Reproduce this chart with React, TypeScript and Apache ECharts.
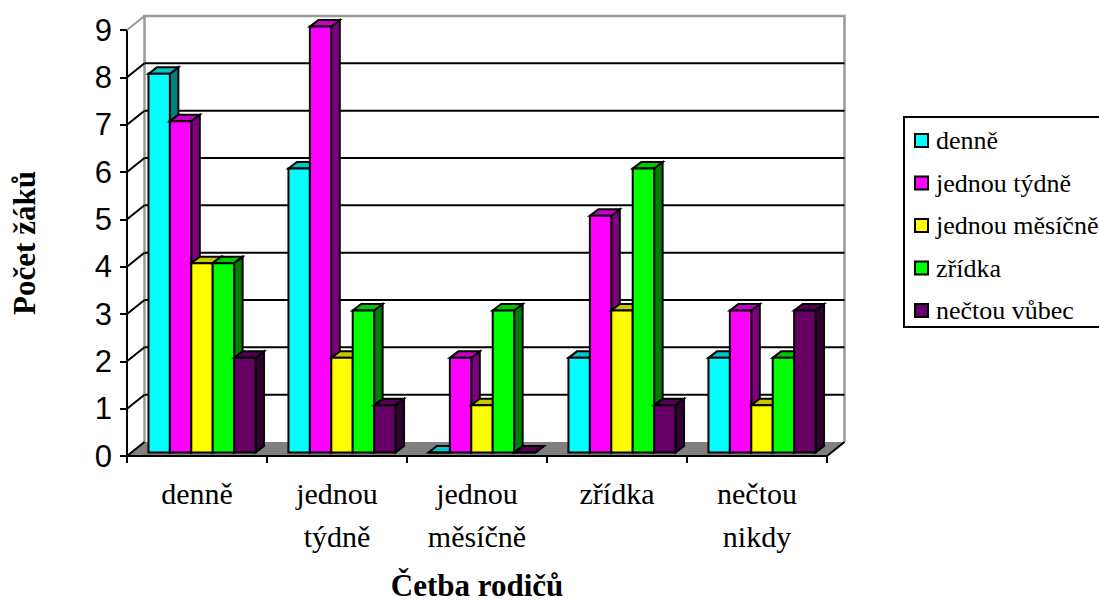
import React, { useEffect, useRef } from "react";
import * as echarts from "echarts";

const categories = ["denně", "jednou\ntýdně", "jednou\nměsíčně", "zřídka", "nečtou\nnikdy"];
const yTicks = [0, 1, 2, 3, 4, 5, 6, 7, 8, 9];
const denne = [8, 6, 0, 2, 2];
const jednouTydne = [7, 9, 2, 5, 3];
const jednouMesicne = [4, 2, 1, 3, 1];
const zridka = [4, 3, 3, 6, 2];
const nectouVubec = [2, 1, 0, 1, 3];

const seriesDefs = [
  { name: "denně", values: denne, front: "#00FFFF", top: "#00C8C8", side: "#008080" },
  { name: "jednou týdně", values: jednouTydne, front: "#FF00FF", top: "#C800C8", side: "#800080" },
  { name: "jednou měsíčně", values: jednouMesicne, front: "#FFFF00", top: "#C8C800", side: "#808000" },
  { name: "zřídka", values: zridka, front: "#00FF00", top: "#00C800", side: "#008000" },
  { name: "nečtou vůbec", values: nectouVubec, front: "#660066", top: "#520052", side: "#330033" },
];

const WALL_DX = 17.5;
const WALL_DY = -14;
const BAR_DX = 5;
const BAR_DY = -3.5;
const DEPTH_X = 8.5;
const DEPTH_Y = -6.5;
const GROUP_RATIO = 0.765;

const wallRender = (params: any, api: any) => {
  const v = api.value(0);
  const band = api.size([1, 0])[0];
  const left = api.coord([0, v]);
  const right = api.coord([categories.length - 1, v]);
  const x0 = left[0] - band / 2;
  const x1 = right[0] + band / 2;
  const y = left[1];
  const children: any[] = [];
  const bx0 = x0 + WALL_DX;
  const bx1 = x1 + WALL_DX;
  const by = y + WALL_DY;
  if (v === 0) {
    const topY = api.coord([0, 9])[1] + WALL_DY;
    children.push({
      type: "polygon",
      shape: { points: [[x0, y], [bx0, by], [bx1, by], [x1, y]] },
      style: { fill: "#808080", stroke: null },
    });
    children.push({
      type: "polyline",
      shape: { points: [[bx0, by], [bx0, topY], [bx1, topY], [bx1, by]] },
      style: { fill: null, stroke: "#999999", lineWidth: 2.5 },
    });
    children.push({
      type: "line",
      shape: { x1: x1, y1: y, x2: bx1, y2: by },
      style: { stroke: "#000", lineWidth: 2 },
    });
  }
  const grey = v === 9;
  if (v !== 0 && !grey) {
    children.push({
      type: "line",
      shape: { x1: bx0, y1: by, x2: bx1, y2: by },
      style: { stroke: "#000", lineWidth: 2 },
    });
  }
  children.push({
    type: "line",
    shape: { x1: x0, y1: y, x2: bx0, y2: by },
    style: { stroke: grey ? "#999999" : "#000", lineWidth: 2 },
  });
  return { type: "group", children };
};

const barRender = (seriesPos: number, def: any) => (params: any, api: any) => {
  const cat = api.value(0);
  const val = api.value(1);
  const band = api.size([1, 0])[0];
  const groupW = band * GROUP_RATIO;
  const barW = groupW / seriesDefs.length;
  const center = api.coord([cat, 0]);
  const topPt = api.coord([cat, val]);
  const x0 = center[0] - groupW / 2 + seriesPos * barW + BAR_DX;
  const x1 = x0 + barW;
  const yBase = center[1] + BAR_DY;
  const yTop = topPt[1] + BAR_DY;
  const edge = { stroke: "#000", lineWidth: 2, lineJoin: "miter" };
  return {
    type: "group",
    children: [
      {
        type: "polygon",
        shape: { points: [[x1, yTop], [x1 + DEPTH_X, yTop + DEPTH_Y], [x1 + DEPTH_X, yBase + DEPTH_Y], [x1, yBase]] },
        style: { fill: def.side, ...edge },
      },
      {
        type: "polygon",
        shape: { points: [[x0, yTop], [x0 + DEPTH_X, yTop + DEPTH_Y], [x1 + DEPTH_X, yTop + DEPTH_Y], [x1, yTop]] },
        style: { fill: def.top, ...edge },
      },
      {
        type: "polygon",
        shape: { points: [[x0, yTop], [x1, yTop], [x1, yBase], [x0, yBase]] },
        style: { fill: def.front, ...edge },
      },
    ],
  };
};

export default function App() {
  const ref = useRef<HTMLDivElement>(null);
  useEffect(() => {
    const chart = echarts.init(ref.current!, null, { renderer: "svg" });
    chart.setOption({
      animation: false,
      backgroundColor: "#fff",
      grid: { left: 127, top: 30, width: 700, height: 426, outerBoundsMode: "none", containLabel: false },
      xAxis: {
        type: "category",
        data: categories,
        z: 20,
        axisLine: { show: true, onZero: false, lineStyle: { color: "#000", width: 2 } },
        axisTick: { show: true, length: 7, lineStyle: { color: "#000", width: 2 } },
        axisLabel: {
          interval: 0,
          margin: 16,
          fontFamily: "Liberation Serif",
          fontSize: 30,
          lineHeight: 43,
          color: "#000",
        },
        name: "Četba rodičů",
        nameLocation: "middle",
        nameGap: 115,
        nameTextStyle: { fontFamily: "Liberation Serif", fontWeight: "bold", fontSize: 31, lineHeight: 28, color: "#000" },
      },
      yAxis: {
        type: "value",
        min: 0,
        max: 9,
        interval: 1,
        splitLine: { show: false },
        axisLine: { show: true, lineStyle: { color: "#000", width: 2 } },
        axisTick: { show: true, length: 7, lineStyle: { color: "#000", width: 2 } },
        axisLabel: { margin: 15, fontFamily: "Liberation Sans", fontSize: 31, color: "#000" },
        name: "Počet žáků",
        nameLocation: "middle",
        nameGap: 87,
        nameRotate: 90,
        nameTextStyle: { fontFamily: "Liberation Serif", fontWeight: "bold", fontSize: 31, color: "#000" },
      },
      legend: {
        orient: "vertical",
        left: 904,
        top: 117,
        data: seriesDefs.map((d) => d.name),
        icon: "rect",
        itemWidth: 13,
        itemHeight: 13,
        itemGap: 11.5,
        padding: [8, 12, 1, 10],
        borderColor: "#000",
        borderWidth: 2,
        selectedMode: false,
        inactiveColor: "#000",
        itemStyle: { borderColor: "#000", borderWidth: 2 },
        textStyle: { fontFamily: "Liberation Serif", fontSize: 26, color: "#000", padding: [0, 0, 0, 3], lineHeight: 31 },
      },
      series: [
        {
          type: "custom",
          name: "wall",
          silent: true,
          coordinateSystem: "cartesian2d",
          clip: false,
          encode: { y: 0 },
          renderItem: wallRender,
          data: yTicks.map((v) => [v]),
          z: 1,
        },
        ...seriesDefs.map((def, i) => ({
          type: "custom",
          name: def.name,
          coordinateSystem: "cartesian2d",
          clip: false,
          encode: { x: 0, y: 1 },
          renderItem: barRender(i, def),
          itemStyle: { color: def.front, borderColor: "#000", borderWidth: 2 },
          data: def.values.map((v, c) => [c, v]),
          z: 2 + i,
        })),
      ],
    });
    return () => chart.dispose();
  }, []);
  return (
    <div
      ref={ref}
      style={{ position: "fixed", left: 0, top: 0, width: 1099, height: 603, overflow: "hidden" }}
    />
  );
}
